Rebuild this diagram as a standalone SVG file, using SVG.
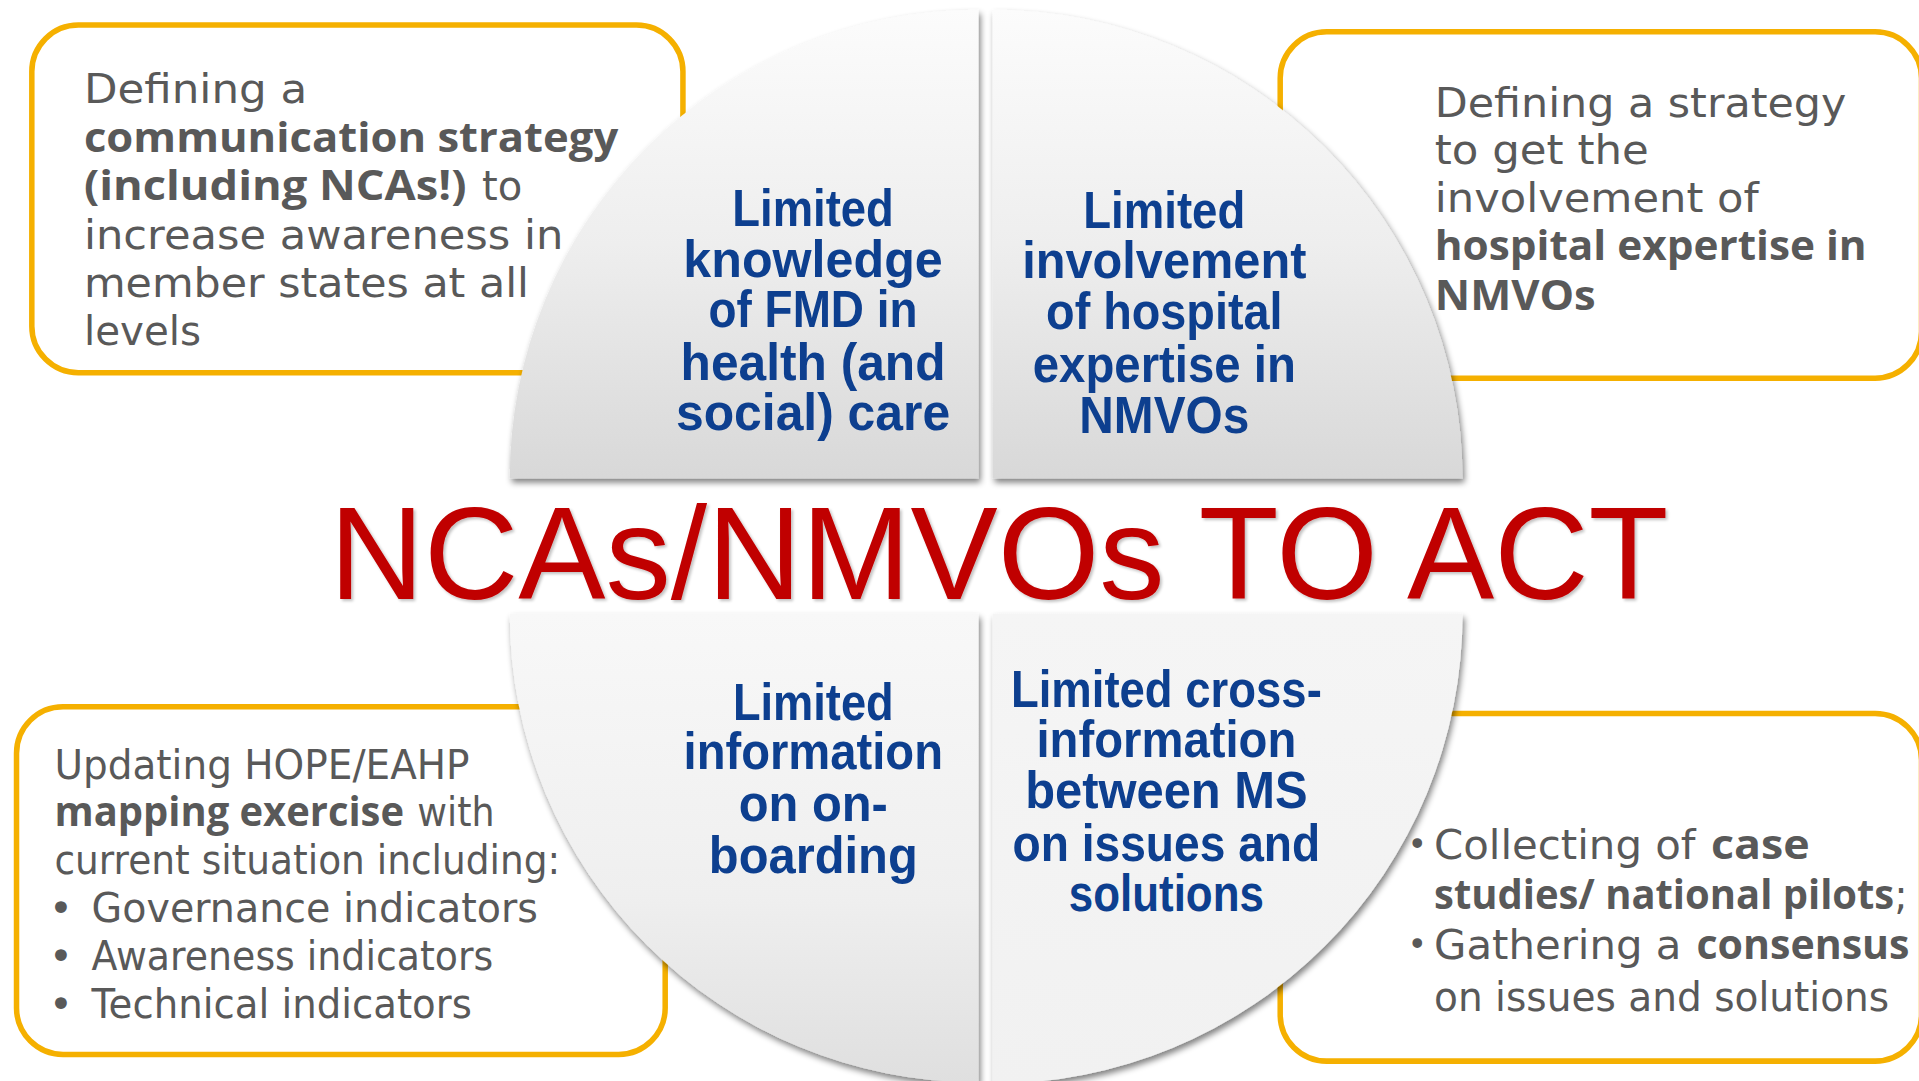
<svg xmlns="http://www.w3.org/2000/svg" width="1919" height="1081" viewBox="0 0 1919 1081">
<defs>
<style>
.box{fill:#ffffff;stroke:#F5B000;stroke-width:4.5}
.g{font-family:"DejaVu Sans","Liberation Sans",sans-serif;font-size:33px;fill:#595959}
.gb{font-family:"Open Sans","DejaVu Sans",sans-serif;font-weight:700;font-size:33px;fill:#595959}
.semi{font-family:"DejaVu Sans",sans-serif;font-weight:400}
.bul2{font-size:27px}
.q{font-family:"Liberation Sans",Arial,sans-serif;font-weight:700;font-size:42px;fill:#0D3F8F;text-anchor:middle}
.t{font-family:"Liberation Sans",Arial,sans-serif;font-size:108px;fill:#C00000}
</style>
<linearGradient id="gTop" x1="0" y1="0" x2="0" y2="1">
<stop offset="0" stop-color="#fcfcfc"/>
<stop offset="0.5" stop-color="#eeeeee"/>
<stop offset="1" stop-color="#d8d8d8"/>
</linearGradient>
<linearGradient id="gBL" x1="0" y1="0" x2="0" y2="1">
<stop offset="0" stop-color="#f8f8f8"/>
<stop offset="0.6" stop-color="#efefef"/>
<stop offset="1" stop-color="#dfdfdf"/>
</linearGradient>
<linearGradient id="gBR" x1="0" y1="0" x2="0" y2="1">
<stop offset="0" stop-color="#f5f5f5"/>
<stop offset="1" stop-color="#f1f1f1"/>
</linearGradient>
<filter id="qs" x="-5%" y="-5%" width="112%" height="112%">
<feGaussianBlur in="SourceAlpha" stdDeviation="2.5"/>
<feOffset dx="2" dy="3" result="o"/>
<feComponentTransfer><feFuncA type="linear" slope="0.5"/></feComponentTransfer>
<feMerge><feMergeNode/><feMergeNode in="SourceGraphic"/></feMerge>
</filter>
<filter id="ts" x="-2%" y="-10%" width="104%" height="125%">
<feGaussianBlur in="SourceAlpha" stdDeviation="1.5"/>
<feOffset dx="2" dy="2"/>
<feComponentTransfer><feFuncA type="linear" slope="0.25"/></feComponentTransfer>
<feMerge><feMergeNode/><feMergeNode in="SourceGraphic"/></feMerge>
</filter>
</defs>
<rect x="0" y="0" width="1919" height="1081" fill="#ffffff"/>
<g transform="scale(1.2239)">
<g id="box-top-left">
<rect class="box" x="26" y="20.5" width="532" height="284" rx="38"/>
<text class="g"><tspan x="68.6" y="84.4" textLength="182.4" lengthAdjust="spacingAndGlyphs">Defining a</tspan><tspan class="gb" x="68.6" y="123.9" textLength="436.5" lengthAdjust="spacingAndGlyphs">communication strategy</tspan><tspan class="gb" x="68.6" y="163.4" textLength="312.6" lengthAdjust="spacingAndGlyphs">(including NCAs!)</tspan><tspan x="393.9" y="163.4" textLength="32.9" lengthAdjust="spacingAndGlyphs">to</tspan><tspan x="68.6" y="203.2" textLength="391.8" lengthAdjust="spacingAndGlyphs">increase awareness in</tspan><tspan x="68.6" y="242.4" textLength="363.6" lengthAdjust="spacingAndGlyphs">member states at all</tspan><tspan x="68.6" y="281.9" textLength="95.6" lengthAdjust="spacingAndGlyphs">levels</tspan></text>
</g>
<g id="box-top-right">
<rect class="box" x="1046" y="26" width="524" height="283" rx="38"/>
<text class="g"><tspan x="1172.3" y="95.3" textLength="336.3" lengthAdjust="spacingAndGlyphs">Defining a strategy</tspan><tspan x="1172.3" y="134" textLength="174.8" lengthAdjust="spacingAndGlyphs">to get the</tspan><tspan x="1172.3" y="172.9" textLength="264.7" lengthAdjust="spacingAndGlyphs">involvement of</tspan><tspan class="gb" x="1172.3" y="212.4" textLength="352.9" lengthAdjust="spacingAndGlyphs">hospital expertise in</tspan><tspan class="gb" x="1172.3" y="253.3" textLength="131.5" lengthAdjust="spacingAndGlyphs">NMVOs</tspan></text>
</g>
<g id="box-bottom-left">
<rect class="box" x="13.5" y="577.5" width="530" height="284" rx="38"/>
<text class="g"><tspan x="44.5" y="636.1" textLength="339.2" lengthAdjust="spacingAndGlyphs">Updating HOPE/EAHP</tspan><tspan class="gb" x="44.5" y="675.2" textLength="285.6" lengthAdjust="spacingAndGlyphs">mapping exercise</tspan><tspan x="341" y="675.2" textLength="63.1" lengthAdjust="spacingAndGlyphs">with</tspan><tspan x="44.5" y="714.2" textLength="413.2" lengthAdjust="spacingAndGlyphs">current situation including:</tspan><tspan x="40" y="753.5">•</tspan><tspan x="74.8" y="753.5" textLength="364.7" lengthAdjust="spacingAndGlyphs">Governance indicators</tspan><tspan x="40" y="792.7">•</tspan><tspan x="74.8" y="792.7" textLength="328.2" lengthAdjust="spacingAndGlyphs">Awareness indicators</tspan><tspan x="40" y="831.9">•</tspan><tspan x="74.8" y="831.9" textLength="310.7" lengthAdjust="spacingAndGlyphs">Technical indicators</tspan></text>
</g>
<g id="box-bottom-right">
<rect class="box" x="1046" y="583" width="524" height="284" rx="38"/>
<text class="g"><tspan class="bul2" x="1150" y="699">•</tspan><tspan x="1171.7" y="701.6" textLength="213.7" lengthAdjust="spacingAndGlyphs">Collecting of</tspan><tspan class="gb" x="1398.1" y="701.6" textLength="80.6" lengthAdjust="spacingAndGlyphs">case</tspan><tspan class="gb" x="1171.7" y="742.6" textLength="387" lengthAdjust="spacingAndGlyphs">studies/ national pilots<tspan class="semi">;</tspan></tspan><tspan class="bul2" x="1150" y="781">•</tspan><tspan x="1171.7" y="783.5" textLength="202.1" lengthAdjust="spacingAndGlyphs">Gathering a</tspan><tspan class="gb" x="1386.1" y="783.5" textLength="174.1" lengthAdjust="spacingAndGlyphs">consensus</tspan><tspan x="1171.7" y="825.8" textLength="371.9" lengthAdjust="spacingAndGlyphs">on issues and solutions</tspan></text>
</g>
<g id="connectors"/>
<g id="quadrant-top-left">
<path d="M799.5 391 L416.5 391 A383 383 0 0 1 799.5 8 Z" fill="url(#gTop)" filter="url(#qs)"/>
<text class="q"><tspan x="664.3" y="184.6" textLength="132" lengthAdjust="spacingAndGlyphs">Limited</tspan><tspan x="664.3" y="226" textLength="212" lengthAdjust="spacingAndGlyphs">knowledge</tspan><tspan x="664.3" y="266.9" textLength="170.7" lengthAdjust="spacingAndGlyphs">of FMD in</tspan><tspan x="664.3" y="310.5" textLength="216.4" lengthAdjust="spacingAndGlyphs">health (and</tspan><tspan x="664.3" y="351.3" textLength="224" lengthAdjust="spacingAndGlyphs">social) care</tspan></text>
</g>
<g id="quadrant-top-right">
<path d="M811 391 L811 8 A384 384 0 0 1 1195 391 Z" fill="url(#gTop)" filter="url(#qs)"/>
<text class="q"><tspan x="951.3" y="186.5" textLength="132.4" lengthAdjust="spacingAndGlyphs">Limited</tspan><tspan x="951.3" y="227.4" textLength="232.2" lengthAdjust="spacingAndGlyphs">involvement</tspan><tspan x="951.3" y="268.8" textLength="193.2" lengthAdjust="spacingAndGlyphs">of hospital</tspan><tspan x="951.3" y="311.8" textLength="215" lengthAdjust="spacingAndGlyphs">expertise in</tspan><tspan x="951.3" y="353.5" textLength="138.8" lengthAdjust="spacingAndGlyphs">NMVOs</tspan></text>
</g>
<g id="quadrant-bottom-left">
<path d="M799.5 501.5 L799.5 884.5 A383 383 0 0 1 416.5 501.5 Z" fill="url(#gBL)" filter="url(#qs)"/>
<text class="q"><tspan x="664.5" y="588.2" textLength="131.3" lengthAdjust="spacingAndGlyphs">Limited</tspan><tspan x="664.5" y="628.5" textLength="212" lengthAdjust="spacingAndGlyphs">information</tspan><tspan x="664.5" y="670.5" textLength="121.9" lengthAdjust="spacingAndGlyphs">on on-</tspan><tspan x="664.5" y="713.5" textLength="170.7" lengthAdjust="spacingAndGlyphs">boarding</tspan></text>
</g>
<g id="quadrant-bottom-right">
<path d="M811 501.5 L1195 501.5 A384 384 0 0 1 811 885.5 Z" fill="url(#gBR)" filter="url(#qs)"/>
<text class="q"><tspan x="953" y="577.3" textLength="254" lengthAdjust="spacingAndGlyphs">Limited cross-</tspan><tspan x="953" y="618.7" textLength="212.3" lengthAdjust="spacingAndGlyphs">information</tspan><tspan x="953" y="660.4" textLength="230.7" lengthAdjust="spacingAndGlyphs">between MS</tspan><tspan x="953" y="703.4" textLength="251.3" lengthAdjust="spacingAndGlyphs">on issues and</tspan><tspan x="953" y="744" textLength="159.4" lengthAdjust="spacingAndGlyphs">solutions</tspan></text>
</g>
<g id="title">
<text class="t" x="269.2" y="489.6" textLength="1094" lengthAdjust="spacingAndGlyphs" filter="url(#ts)">NCAs/NMVOs TO ACT</text>
</g>
</g>
</svg>
